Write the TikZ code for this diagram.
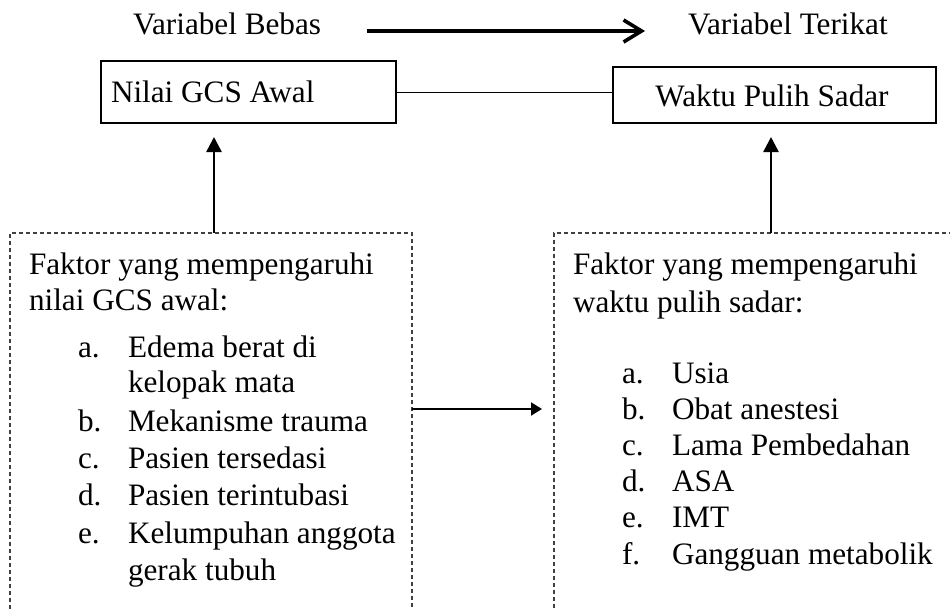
\documentclass[tikz,border=0pt]{standalone}
\usepackage{fontspec}
\setmainfont{Liberation Serif}
\usetikzlibrary{arrows.meta}
\begin{document}
\begin{tikzpicture}[x=1pt,y=-1pt,
  every node/.style={inner sep=0pt,outer sep=0pt,font=\fontsize{31.2}{37}\selectfont},
  txt/.style={anchor=base west},
  solidbox/.style={draw,line width=2pt},
  dashbox/.style={draw=black!75,line width=1.2pt,dash pattern=on 4pt off 3pt},
  uparrow/.style={line width=2.6pt,-{Triangle[length=15pt,width=15pt]}},
  midarrow/.style={line width=2pt,-{Triangle[length=11pt,width=13pt]}},
  toparrow/.style={line width=3.6pt,-{Straight Barb[length=18pt,width=22pt,line width=3.6pt]}},
  thinline/.style={line width=1pt}]
\useasboundingbox (0,0) rectangle (950,610);
\clip (0,0) rectangle (950,610);

% top labels
\node[txt] (vb) at (133,35) {Variabel Bebas};
\node[txt] (vt) at (688,35) {Variabel Terikat};
\coordinate (ta) at (367,31);
\coordinate (tb) at (645,31);
\draw[toparrow] (ta) -- (tb);

% variable boxes
\node[solidbox,minimum width=295pt,minimum height=62pt] (nilai) at (248.5,92) {};
\node[txt] (nilaitxt) at (111,102) {Nilai GCS Awal};
\node[solidbox,minimum width=323pt,minimum height=56pt] (waktu) at (774.5,95) {};
\node[anchor=base] (waktutxt) at (772,106) {Waktu Pulih Sadar};
\draw[thinline] (nilai.east) -- (nilai.east -| waktu.west);

% dashed factor boxes (open at the bottom)
\node[dashbox,minimum width=402pt,minimum height=420pt] (left) at (211,443) {};
\node[dashbox,minimum width=420pt,minimum height=420pt] (right) at (764,443) {};

% arrows
\coordinate (lt) at (214,137);
\coordinate (rt) at (771,137);
\draw[uparrow] (left.north -| lt) -- (lt);
\draw[uparrow] (right.north -| rt) -- (rt);
\coordinate (mid) at (542,409);
\draw[midarrow] (left.east |- mid) -- (mid);

% left text
\node[txt] (l1) at (29,274) {Faktor yang mempengaruhi};
\node[txt] (l2) at (29,310) {nilai GCS awal:};
\node[txt] (la) at (78,357) {a.};
\node[txt] (la1) at (128,357) {Edema berat di};
\node[txt] (la2) at (128,392) {kelopak mata};
\node[txt] (lb) at (78,431) {b.};
\node[txt] (lb1) at (128,431) {Mekanisme trauma};
\node[txt] (lc) at (78,468) {c.};
\node[txt] (lc1) at (128,468) {Pasien tersedasi};
\node[txt] (ld) at (78,505) {d.};
\node[txt] (ld1) at (128,505) {Pasien terintubasi};
\node[txt] (le) at (78,543) {e.};
\node[txt] (le1) at (128,543) {Kelumpuhan anggota};
\node[txt] (le2) at (128,580) {gerak tubuh};

% right text
\node[txt] (r1) at (573,274) {Faktor yang mempengaruhi};
\node[txt] (r2) at (573,312) {waktu pulih sadar:};
\node[txt] (ra) at (622,383) {a.};
\node[txt] (ra1) at (672,383) {Usia};
\node[txt] (rb) at (622,419) {b.};
\node[txt] (rb1) at (672,419) {Obat anestesi};
\node[txt] (rc) at (622,455) {c.};
\node[txt] (rc1) at (672,455) {Lama Pembedahan};
\node[txt] (rd) at (622,491) {d.};
\node[txt] (rd1) at (672,491) {ASA};
\node[txt] (re) at (622,527) {e.};
\node[txt] (re1) at (672,527) {IMT};
\node[txt] (rf) at (622,564) {f.};
\node[txt] (rf1) at (672,564) {Gangguan metabolik};
\end{tikzpicture}
\end{document}
